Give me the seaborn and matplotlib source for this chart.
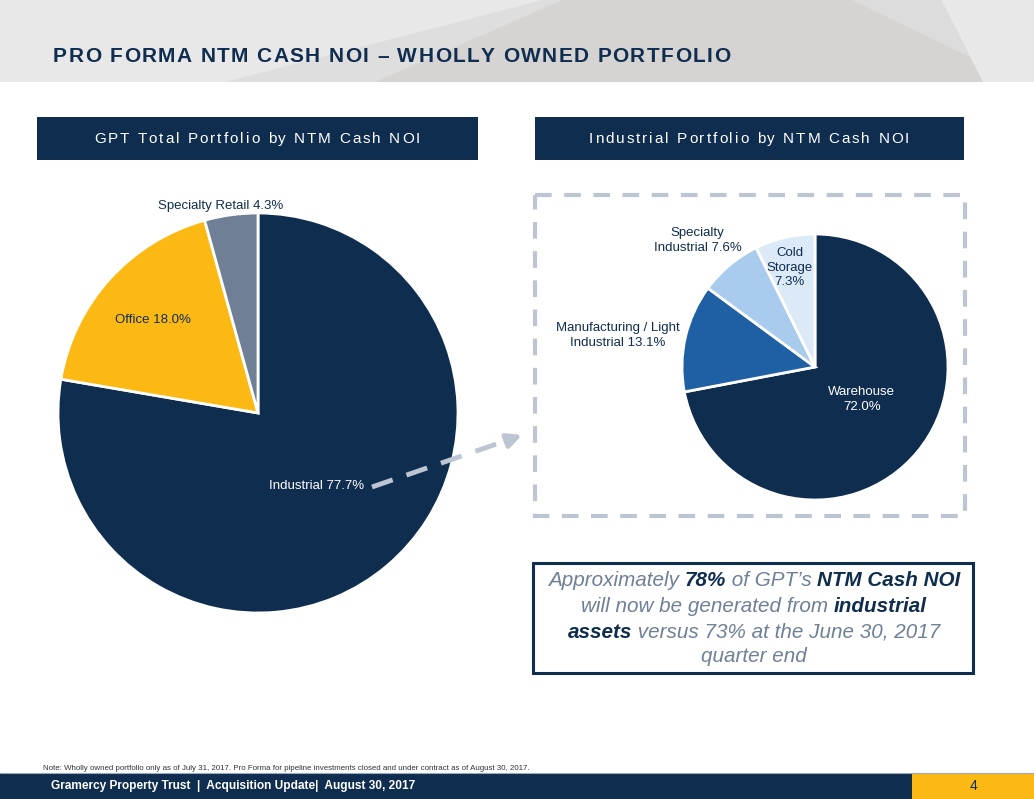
import matplotlib
matplotlib.use("Agg")
import numpy as np
import matplotlib.pyplot as plt
import seaborn as sns
from matplotlib.patches import Rectangle, Polygon

# ---- data ----
left_labels = ["Industrial", "Office", "Specialty Retail"]
left_values = [77.7, 18.0, 4.3]
left_seps = [" ", " ", " "]

right_labels = ["Warehouse", "Manufacturing / Light\nIndustrial", "Specialty\nIndustrial", "Cold\nStorage"]
right_values = [72.0, 13.1, 7.6, 7.3]
right_seps = ["\n", " ", " ", "\n"]

NAVY = "#0F2D4F"
YELLOW = "#FDB913"
SLATE = "#6E7F96"
DASH = "#BCC5D1"

left_colors = [NAVY, YELLOW, SLATE]
right_colors = [NAVY, "#1F5FA4", "#A9CBEE", "#DCEAF8"]

sns.set_theme(style="white")
plt.rcParams["font.family"] = ["Liberation Sans", "DejaVu Sans"]

W, H = 1034, 799
fig = plt.figure(figsize=(W / 100, H / 100), dpi=100)
fig.patch.set_facecolor("white")

# full-figure overlay in pixel coordinates
bg = fig.add_axes([0, 0, 1, 1])
bg.set_xlim(0, W)
bg.set_ylim(H, 0)
bg.axis("off")


def px_axes(x0, y0, x1, y1):
    return fig.add_axes([x0 / W, (H - y1) / H, (x1 - x0) / W, (y1 - y0) / H])


renderer = fig.canvas.get_renderer()


def text_width(s, **kw):
    t = bg.text(0, 0, s + "|", **kw)
    r = bg.text(0, 0, "|", **kw)
    w = t.get_window_extent(renderer).width - r.get_window_extent(renderer).width
    t.remove()
    r.remove()
    return w


def draw_runs(xc, y, runs):
    # runs: list of (text, style dict); centred on xc
    widths = [text_width(s, **kw) for s, kw in runs]
    x = xc - sum(widths) / 2
    for (s, kw), w in zip(runs, widths):
        bg.text(x, y, s, ha="left", va="center", **kw)
        x += w


def draw_tracked(x, y, s, spacing, align="center", **kw):
    widths = [text_width(c, **kw) for c in s]
    total = sum(widths) + spacing * (len(s) - 1)
    if align == "center":
        x = x - total / 2
    for c, w in zip(s, widths):
        bg.text(x, y, c, ha="left", va="center", **kw)
        x += w + spacing


# ---- header band ----
bg.add_patch(Rectangle((0, 0), W, 82, facecolor="#E9E8E9", edgecolor="none"))
bg.add_patch(Polygon([(225, 82), (543, 0), (562, 0), (375, 82)], closed=True,
                     facecolor="#DFDEDE", edgecolor="none"))
bg.add_patch(Polygon([(375, 82), (562, 0), (941, 0), (983, 82)], closed=True,
                     facecolor="#D5D4D3", edgecolor="none"))
bg.add_patch(Polygon([(852, 0), (941, 0), (970, 57)], closed=True,
                     facecolor="#DDDCDC", edgecolor="none"))
draw_tracked(53, 57, "PRO FORMA NTM CASH NOI \u2013 WHOLLY OWNED PORTFOLIO", 1.4, align="left",
             fontsize=15, fontweight="bold", color=NAVY)

# ---- section header boxes ----
bg.add_patch(Rectangle((37, 117), 441, 43, facecolor=NAVY, edgecolor="none"))
bg.add_patch(Rectangle((535, 117), 429, 43, facecolor=NAVY, edgecolor="none"))
draw_tracked(257, 139, "GPT Total Portfolio by NTM Cash NOI", 2.0, fontsize=11, color="white")
draw_tracked(749, 139, "Industrial Portfolio by NTM Cash NOI", 2.0, fontsize=11, color="white")

# ---- dashed frame ----
bg.add_patch(Rectangle((535, 195), 430, 321, facecolor="none", edgecolor=DASH,
                       linewidth=3, linestyle=(0, (4, 3))))


def pie_with_labels(ax, values, labels, seps, colors, radii, shifts, label_colors, fs):
    wedges, _ = ax.pie(values, colors=colors, startangle=90, counterclock=False,
                       wedgeprops=dict(edgecolor="white", linewidth=2))
    for w, v, lab, sep, r, d, c in zip(wedges, values, labels, seps, radii, shifts, label_colors):
        th = np.deg2rad((w.theta1 + w.theta2) / 2 + d)
        ax.text(r * np.cos(th), r * np.sin(th), f"{lab}{sep}{v:.1f}%", ha="center", va="center",
                fontsize=fs, color=c, linespacing=1.3)
    ax.set_xlim(-1, 1)
    ax.set_ylim(-1, 1)
    ax.axis("off")


axl = px_axes(58, 213, 458, 613)
pie_with_labels(axl, left_values, left_labels, left_seps, left_colors,
                [0.47, 0.70, 1.05], [-1.5, 0.6, 2.4], ["white", NAVY, NAVY], 9.5)

axr = px_axes(682, 234, 948, 500)
pie_with_labels(axr, right_values, right_labels, right_seps, right_colors,
                [0.43, 1.50, 1.30, 0.77], [4.6, 3.6, 2.9, 1.1], ["white", NAVY, NAVY, NAVY], 9.5)

# ---- dashed arrow on top of the pie ----
top = fig.add_axes([0, 0, 1, 1])
top.set_xlim(0, W)
top.set_ylim(H, 0)
top.axis("off")
top.patch.set_alpha(0)
top.plot([372, 508], [487, 440], color=DASH, linewidth=3.5, linestyle=(0, (4.5, 3)),
         dash_capstyle="butt")
top.annotate("", xy=(522, 435), xytext=(506, 441),
             arrowprops=dict(arrowstyle="-|>,head_length=0.7,head_width=0.35", color=DASH,
                             linewidth=3.5, shrinkA=0, shrinkB=0))

# ---- callout box ----
bg.add_patch(Rectangle((533, 563), 440, 110, facecolor="white", edgecolor=NAVY, linewidth=2.2))
it = dict(fontsize=14.9, style="italic", color=SLATE)
bd = dict(fontsize=14.9, style="italic", fontweight="bold", color=NAVY)
draw_runs(754, 581, [("Approximately ", it), ("78%", bd), (" of GPT\u2019s ", it), ("NTM Cash NOI", bd)])
draw_runs(754, 606, [("will now be generated from ", it), ("industrial", bd)])
draw_runs(754, 632, [("assets", bd), (" versus 73% at the June 30, 2017", it)])
draw_runs(754, 657, [("quarter end", it)])

# ---- footnote and footer ----
bg.text(43, 768, "Note: Wholly owned portfolio only as of July 31, 2017. Pro Forma for pipeline investments "
        "closed and under contract as of August 30, 2017.", ha="left", va="center", fontsize=5.7, color="#333333")
bg.add_patch(Rectangle((0, 773), 912, 26, facecolor=NAVY, edgecolor="none"))
bg.add_patch(Rectangle((912, 773), W - 912, 26, facecolor=YELLOW, edgecolor="none"))
bg.plot([0, W], [773, 773], color="#9AA8B8", linewidth=0.8)
bg.text(51, 786, "Gramercy Property Trust  |  Acquisition Update|  August 30, 2017", ha="left", va="center",
        fontsize=8.6, fontweight="bold", color="white")
bg.text(973, 786, "4", ha="center", va="center", fontsize=10, color=NAVY)

fig.savefig("out.png", dpi=100)
